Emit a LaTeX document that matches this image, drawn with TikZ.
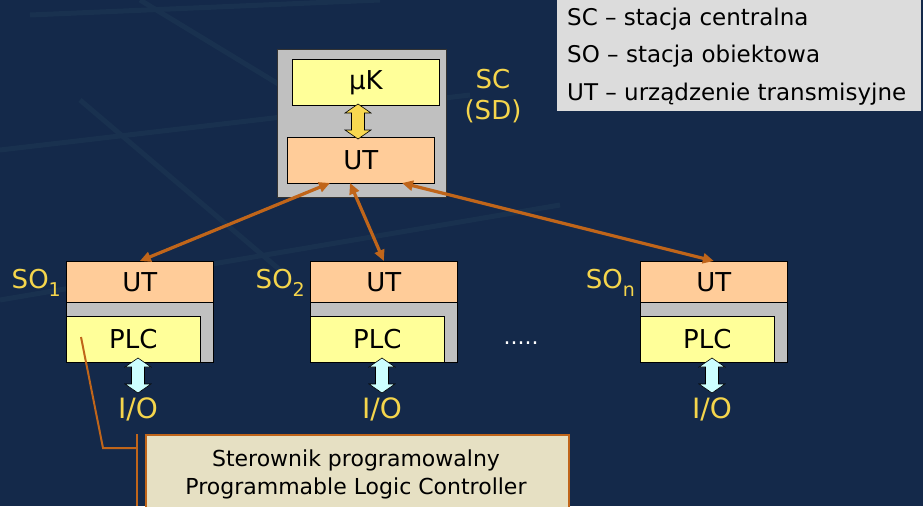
\documentclass[tikz,border=0pt]{standalone}
\usepackage{fontspec}
\setmainfont{DejaVu Sans}
\usetikzlibrary{arrows.meta,calc}
\definecolor{bg}{HTML}{14294A}
\definecolor{bgline}{HTML}{19314F}
\definecolor{boxgray}{HTML}{C0C0C0}
\definecolor{legendgray}{HTML}{DCDCDC}
\definecolor{ylw}{HTML}{FFFF99}
\definecolor{org}{HTML}{FFCC99}
\definecolor{gold}{HTML}{F5D54C}
\definecolor{arr}{HTML}{C0651A}
\definecolor{cyanbox}{HTML}{CCFFFF}
\definecolor{yarrow}{HTML}{F8D850}
\definecolor{callfill}{HTML}{E6E0C3}
\newcommand\vdblarrow[3]{%
  \path let \p1=(#1), \p2=(#2) in
    [draw=black, line width=0.6pt, fill=#3]
    (\x1,\y1) -- (\x1+13pt,\y1-9pt) -- (\x1+6.5pt,\y1-9pt) -- (\x1+6.5pt,\y2+9pt)
    -- (\x1+13pt,\y2+9pt) -- (\x1,\y2) -- (\x1-13pt,\y2+9pt) -- (\x1-6.5pt,\y2+9pt)
    -- (\x1-6.5pt,\y1-9pt) -- (\x1-13pt,\y1-9pt) -- cycle;}
\tikzset{
  box/.style={draw=black, line width=0.7pt, inner sep=0pt, anchor=north west,
    font=\fontsize{26}{30}\selectfont},
  gold/.style={text=gold, font=\fontsize{26}{30}\selectfont, inner sep=0pt},
  link/.style={draw=arr, line width=3.2pt,
    {Triangle[length=11pt,width=10pt]}-{Triangle[length=11pt,width=10pt]}},
  legend/.style={anchor=west, inner sep=0pt, font=\fontsize{23}{26}\selectfont}
}
\begin{document}
\begin{tikzpicture}[x=1pt,y=-1pt]
\fill[bg] (0,0) rectangle (923,506);
\useasboundingbox (0,0) rectangle (923,506);
% faint background grid
\begin{scope}[bgline, line width=5pt]
\draw (0,150) -- (470,95);
\draw (0,300) -- (560,205);
\draw (30,15) -- (380,0);
\draw (80,100) -- (280,270);
\draw (140,0) -- (420,170);
\end{scope}
% legend
\fill[legendgray] (557,0) rectangle (921,111);
\node[legend] (l1) at (567,19) {SC – stacja centralna};
\node[legend] (l2) at (567,56) {SO – stacja obiektowa};
\node[legend] (l3) at (567,94) {UT – urządzenie transmisyjne};
% central station
\node[box, fill=boxgray, draw=black!80, minimum width=169pt, minimum height=148pt] (sc) at (277,49) {};
\node[box, fill=ylw, minimum width=147pt, minimum height=46pt] (muk) at (292,59) {µK};
\node[box, fill=org, minimum width=147pt, minimum height=46pt] (scut) at (287,137) {UT};
\coordinate (ya) at (358,104);
\coordinate (yb) at (358,139);
\vdblarrow{ya}{yb}{yarrow}
\node[gold] (sclab) at (493,79) {SC};
\node[gold] (sdlab) at (493,111) {(SD)};
% object stations
\foreach \i/\x/\sub in {1/66/1, 2/310/2, n/640/n}{
  \node[box, fill=boxgray, minimum width=147pt, minimum height=101pt] (so\i) at (\x,261) {};
  \node[box, fill=org, minimum width=147pt, minimum height=41pt] (so\i ut) at (\x,261) {UT};
  \node[box, fill=ylw, minimum width=134pt, minimum height=46pt] (so\i plc) at (\x,316) {PLC};
  \node[gold, anchor=east] (so\i lab) at (\x-5,283) {SO\raisebox{-0.32em}{\fontsize{19}{20}\selectfont\sub}};
  \coordinate (io\i a) at (\x+72,358);
  \coordinate (io\i b) at (\x+72,393);
  \vdblarrow{io\i a}{io\i b}{cyanbox}
  \node[gold, font=\fontsize{28}{30}\selectfont] (io\i) at (\x+72,409) {I/O};
}
\node[text=white, font=\fontsize{22}{24}\selectfont, inner sep=0pt] (dots) at (521,343) {.....};
% links
\coordinate (s1) at (330,183);
\coordinate (s2) at (350,183);
\coordinate (s3) at (402,183);
\draw[link] (s1) -- (so1ut.north);
\draw[link] (s2) -- (so2ut.north);
\draw[link] (s3) -- (sonut.north);
% callout
\node[draw=arr, line width=2pt, fill=callfill, anchor=north west, minimum width=423pt,
  minimum height=90pt, inner sep=0pt] (call) at (145,434) {};
\node[font=\fontsize{22}{28}\selectfont, align=center, anchor=north, inner sep=0pt] (calltext)
  at (356,450) {Sterownik programowalny\\Programmable Logic Controller};
\coordinate (cp) at (81,337);
\coordinate (ck) at (103,448);
\coordinate (ce) at (137,448);
\draw[arr, line width=2pt] (cp) -- (ck) -- (ce);
\draw[arr, line width=2.5pt] (137,434) -- (137,506);
\end{tikzpicture}
\end{document}
